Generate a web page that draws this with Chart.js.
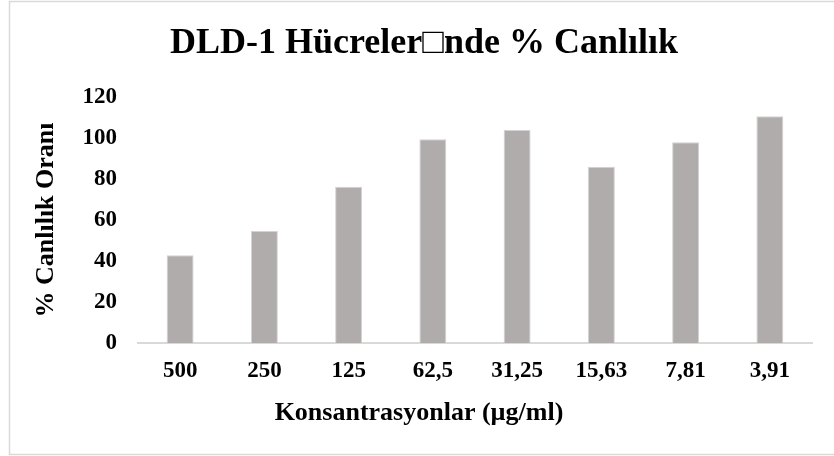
<!DOCTYPE html>
<html>
<head>
<meta charset="utf-8">
<script src="https://cdn.jsdelivr.net/npm/chart.js@4"></script>
<style>
  html, body { margin: 0; padding: 0; background: #fff; }
  #wrap { position: relative; width: 834px; height: 456px; }
</style>
</head>
<body>
<div id="wrap"><canvas id="myBarChart"></canvas></div>
<script>
var categories = ['500', '250', '125', '62,5', '31,25', '15,63', '7,81', '3,91'];
var values = [42.8, 54.6, 76.2, 99.4, 103.9, 86.0, 97.9, 110.6];
var chartTitle = 'DLD-1 Hücreler\u25A1nde % Canlılık';
var xTitle = 'Konsantrasyonlar (µg/ml)';
var yTitle = '% Canlılık Oranı';

var serif = "'Liberation Serif', 'Times New Roman', serif";

// frame + the two centred titles (Excel centres them on the whole chart, not the plot)
var decorPlugin = {
    id: 'decor',
    beforeDraw: function (chart) {
        var c = chart.ctx;
        c.save();
        c.strokeStyle = '#d9d9d9';
        c.lineWidth = 1.5;
        c.strokeRect(9.5, 1.5, 840, 453);
        c.restore();
    },
    afterDraw: function (chart) {
        var c = chart.ctx;
        c.save();
        c.fillStyle = '#000';
        c.textAlign = 'center';
        c.textBaseline = 'middle';
        c.font = 'bold 36px ' + serif;
        c.fillText(chartTitle, 424, 44);
        c.font = 'bold 26px ' + serif;
        c.fillText(xTitle, 419, 413);
        c.restore();
    }
};

var ctx = document.getElementById('myBarChart').getContext('2d');

var data = {
    labels: categories,
    datasets: [{
        label: '% Canlılık',
        data: values,
        backgroundColor: '#afacab',
        borderColor: '#d4d2d2',
        borderWidth: 1,
        barPercentage: 0.32,
        categoryPercentage: 1
    }]
};

var myBarChart = new Chart(ctx, {
    type: 'bar',
    data: data,
    plugins: [decorPlugin],
    options: {
        responsive: true,
        maintainAspectRatio: false,
        animation: false,
        layout: {
            padding: { left: 10, right: 22, top: 97, bottom: 63 }
        },
        scales: {
            x: {
                grid: { display: false, drawTicks: false },
                border: { display: true, color: '#d9d9d9', width: 2 },
                ticks: {
                    color: '#000',
                    padding: 14,
                    maxRotation: 0,
                    font: { family: serif, size: 23, weight: 'bold' }
                },
                afterFit: function (scale) { scale.height = 50; }
            },
            y: {
                min: 0,
                max: 120,
                grid: { display: false, drawTicks: false },
                border: { display: false },
                ticks: {
                    stepSize: 20,
                    color: '#000',
                    padding: 21,
                    font: { family: serif, size: 23, weight: 'bold' }
                },
                title: {
                    display: true,
                    text: yTitle,
                    color: '#000',
                    padding: { top: 21, bottom: 0 },
                    font: { family: serif, size: 26, weight: 'bold' }
                },
                afterFit: function (scale) { scale.width = 128; }
            }
        },
        plugins: {
            legend: { display: false },
            tooltip: { enabled: false },
            title: { display: false }
        }
    }
});
</script>
</body>
</html>
